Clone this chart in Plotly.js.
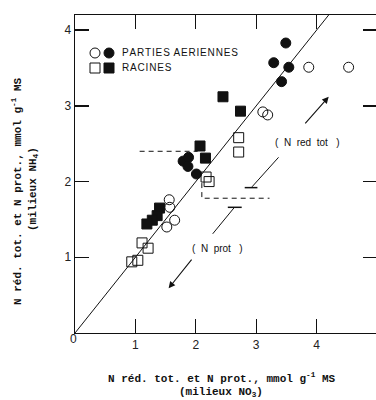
<!DOCTYPE html>
<html>
<head>
<meta charset="utf-8">
<script src="https://cdn.plot.ly/plotly-3.0.1.min.js"></script>
<style>
html,body{margin:0;padding:0;overflow:hidden;background:#fff;}
#chart{width:380px;height:400px;}
</style>
</head>
<body>
<div id="chart"></div>
<script>
// ---- Data ----
// Parties aériennes (circles): open / filled
const openCircleX = [3.87, 4.53, 3.11, 3.19, 1.56, 1.57, 1.65, 1.52];
const openCircleY = [3.51, 3.51, 2.92, 2.88, 1.76, 1.66, 1.49, 1.40];
const filledCircleX = [3.49, 3.29, 3.54, 3.42, 1.79, 1.88, 1.87, 2.01];
const filledCircleY = [3.83, 3.57, 3.51, 3.32, 2.27, 2.32, 2.20, 2.10];
// Racines (squares): open / filled
const openSquareX = [2.71, 2.71, 2.17, 2.22, 1.11, 1.21, 0.94, 1.04];
const openSquareY = [2.58, 2.39, 2.06, 2.00, 1.19, 1.12, 0.94, 0.96];
const filledSquareX = [2.45, 2.74, 2.07, 2.16, 1.40, 1.36, 1.28, 1.19];
const filledSquareY = [3.12, 2.93, 2.47, 2.31, 1.65, 1.55, 1.49, 1.44];
// 1:1 line
const diagX = [0, 4.2];
const diagY = [0, 4.2];
// Annotation guides
const dashUpperX = [1.07, 2.03];
const dashUpperY = [2.40, 2.40];
const dashLowerX = [2.10, 2.10, 3.22];
const dashLowerY = [1.98, 1.78, 1.78];
const redTotTail = [3.79, 2.75];
const redTotHead = [4.20, 3.12];
const redTotStem = [[3.37, 2.32], [2.93, 1.93]];
const redTotBar = [[2.81, 1.92], [3.02, 1.92]];
const protStem = [[2.64, 1.66], [2.28, 1.31]];
const protBar = [[2.53, 1.66], [2.76, 1.66]];
const protTail = [1.95, 0.99];
const protHead = [1.55, 0.59];
const redTotLabelPos = [3.84, 2.52];
const protLabelPos = [2.36, 1.12];
const xTicks = [1, 2, 3, 4];
const yTicks = [1, 2, 3, 4];

const ink = '#111';
const mk = {size: 10, line: {color: ink, width: 1}};

const traces = [
  {x: diagX, y: diagY, mode: 'lines', line: {color: ink, width: 1}, hoverinfo: 'skip'},
  {x: dashUpperX, y: dashUpperY, mode: 'lines', line: {color: ink, width: 1, dash: '5px,4px'}},
  {x: dashLowerX, y: dashLowerY, mode: 'lines', line: {color: ink, width: 1, dash: '5px,4px'}},
  {x: [redTotStem[0][0], redTotStem[1][0]], y: [redTotStem[0][1], redTotStem[1][1]], mode: 'lines', line: {color: ink, width: 1}},
  {x: [redTotBar[0][0], redTotBar[1][0]], y: [redTotBar[0][1], redTotBar[1][1]], mode: 'lines', line: {color: ink, width: 1.5}},
  {x: [protStem[0][0], protStem[1][0]], y: [protStem[0][1], protStem[1][1]], mode: 'lines', line: {color: ink, width: 1}},
  {x: [protBar[0][0], protBar[1][0]], y: [protBar[0][1], protBar[1][1]], mode: 'lines', line: {color: ink, width: 1.5}},
  {x: openCircleX, y: openCircleY, mode: 'markers', marker: Object.assign({symbol: 'circle-open', color: ink}, mk)},
  {x: filledCircleX, y: filledCircleY, mode: 'markers', marker: Object.assign({symbol: 'circle', color: ink}, mk)},
  {x: openSquareX, y: openSquareY, mode: 'markers', marker: Object.assign({symbol: 'square-open', color: ink}, mk)},
  {x: filledSquareX, y: filledSquareY, mode: 'markers', marker: Object.assign({symbol: 'square', color: ink}, mk)}
];

const tickFont = {family: 'Liberation Sans, Arial, sans-serif', size: 12, color: '#222'};
const titleFont = {family: 'Liberation Mono, Courier New, monospace', size: 11, color: ink, weight: 'bold'};
const noteFont = {family: 'Liberation Sans, Arial, sans-serif', size: 10, color: ink};

function arrow(head, tail) {
  return {x: head[0], y: head[1], ax: tail[0], ay: tail[1], axref: 'x', ayref: 'y', xref: 'x', yref: 'y',
    text: '', showarrow: true, arrowhead: 2, arrowsize: 1.2, arrowwidth: 1.1, arrowcolor: ink};
}

const layout = {
  width: 380, height: 400,
  margin: {l: 75, r: 3, t: 15, b: 67},
  paper_bgcolor: '#fff', plot_bgcolor: '#fff',
  showlegend: false,
  xaxis: {range: [0, 5], tickvals: xTicks, ticktext: xTicks.map(String), ticks: 'inside', ticklen: 14,
    tickcolor: ink, tickwidth: 1.3, showline: true, linecolor: ink, linewidth: 1.3, mirror: 'ticks',
    showgrid: false, zeroline: false, tickfont: tickFont, fixedrange: true},
  yaxis: {range: [0, 4.2], tickvals: yTicks, ticktext: yTicks.map(String), ticks: 'inside', ticklen: 14,
    tickcolor: ink, tickwidth: 1.3, showline: true, linecolor: ink, linewidth: 1.3, mirror: 'ticks',
    showgrid: false, zeroline: false, tickfont: tickFont, fixedrange: true},
  shapes: [
    {type: 'circle', xref: 'paper', yref: 'paper', x0: (90-75)/302, x1: (100-75)/302, y0: (333-58)/318, y1: (333-48)/318, line: {color: ink, width: 1}},
    {type: 'circle', xref: 'paper', yref: 'paper', x0: (104-75)/302, x1: (114-75)/302, y0: (333-58)/318, y1: (333-48)/318, fillcolor: ink, line: {color: ink, width: 1}},
    {type: 'rect', xref: 'paper', yref: 'paper', x0: (90-75)/302, x1: (100-75)/302, y0: (333-73)/318, y1: (333-63)/318, line: {color: ink, width: 1}},
    {type: 'rect', xref: 'paper', yref: 'paper', x0: (104-75)/302, x1: (114-75)/302, y0: (333-73)/318, y1: (333-63)/318, fillcolor: ink, line: {color: ink, width: 1}}
  ],
  annotations: [
    {xref: 'paper', yref: 'paper', x: (120-75)/302, y: (333-53)/318, xanchor: 'left', yanchor: 'middle', showarrow: false,
      text: 'P A R T I E S  A E R I E N N E S'.replace(/ (?=\S)/g, '\u200A'), font: noteFont},
    {xref: 'paper', yref: 'paper', x: (120-75)/302, y: (333-68)/318, xanchor: 'left', yanchor: 'middle', showarrow: false,
      text: 'R A C I N E S'.replace(/ (?=\S)/g, '\u200A'), font: noteFont},
    {x: redTotLabelPos[0], y: redTotLabelPos[1], showarrow: false, text: '(  N  red  tot   )', font: noteFont},
    {x: protLabelPos[0], y: protLabelPos[1], showarrow: false, text: '(  N  prot   )', font: noteFont},
    arrow(redTotHead, redTotTail),
    arrow(protHead, protTail),
    {xref: 'paper', yref: 'paper', x: 0, y: 0, xshift: -7, yshift: -15, showarrow: false, text: '0', font: tickFont},
    {xref: 'paper', yref: 'paper', x: (221-75)/302, y: (333-378)/318, yanchor: 'middle', showarrow: false,
      text: 'N réd. tot. et N prot., mmol g<sup>-1</sup> MS', font: titleFont},
    {xref: 'paper', yref: 'paper', x: (221-75)/302, y: (333-392)/318, yanchor: 'middle', showarrow: false,
      text: '(milieux NO<sub>3</sub>)', font: titleFont},
    {xref: 'paper', yref: 'paper', x: (17-75)/302, y: (333-192)/318, xanchor: 'center', yanchor: 'middle', textangle: -90, showarrow: false,
      text: 'N réd. tot. et N prot., mmol g<sup>-1</sup> MS', font: titleFont},
    {xref: 'paper', yref: 'paper', x: (33-75)/302, y: (333-189)/318, xanchor: 'center', yanchor: 'middle', textangle: -90, showarrow: false,
      text: '(milieux NH<sub>4</sub>)', font: titleFont}
  ]
};

Plotly.newPlot('chart', traces, layout, {displayModeBar: false, staticPlot: true});
</script>
</body>
</html>
